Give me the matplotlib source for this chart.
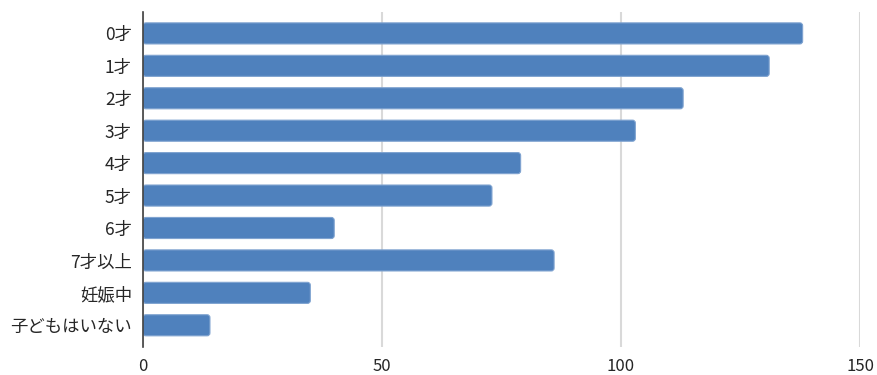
import matplotlib
matplotlib.use('Agg')
import matplotlib.pyplot as plt
from matplotlib.patches import FancyBboxPatch

plt.rcParams['font.family'] = ['Noto Sans CJK JP', 'DejaVu Sans']

categories = ['0才', '1才', '2才', '3才', '4才', '5才', '6才', '7才以上', '妊娠中', '子どもはいない']
values = [138, 131, 113, 103, 79, 73, 40, 86, 35, 14]
xticks = [0, 50, 100, 150]

fig = plt.figure(figsize=(8.78, 3.75), dpi=100)
ax = fig.add_axes([0.1629, 0.0755, 0.8166, 0.8925])

ypos = list(range(len(categories)))[::-1]
bars = ax.barh(ypos, values, height=0.65, color='#4F81BD')

# 角丸バーに置き換え
px_x = 717 / 150.0
px_y = 32.4
aspect = px_x / px_y
for b in bars:
    x0, y0 = b.get_x(), b.get_y()
    w, h = b.get_width(), b.get_height()
    b.set_visible(False)
    p = FancyBboxPatch((x0, y0), w, h, boxstyle='round,pad=0,rounding_size=0.6',
                       mutation_aspect=aspect, facecolor='#4F81BD',
                       edgecolor='#7FA3D0', linewidth=0.8, zorder=3)
    ax.add_patch(p)

ax.set_xlim(0, 150)
ax.set_ylim(-0.66, len(categories) - 1 + 0.66)
ax.set_xticks(xticks)
ax.set_yticks(ypos)
ax.set_yticklabels(categories)
ax.xaxis.grid(True, color='#D9D9D9', linewidth=1.5)
ax.set_axisbelow(True)
for s in ['top', 'right', 'bottom']:
    ax.spines[s].set_visible(False)
ax.spines['left'].set_color('#404040')
ax.spines['left'].set_linewidth(1.2)
ax.spines['left'].set_zorder(4)
ax.tick_params(axis='both', length=0, colors='#262626')
ax.tick_params(axis='x', pad=8, labelsize=12)
ax.tick_params(axis='y', pad=8, labelsize=12.5)

fig.savefig('out.png', dpi=100, facecolor='white')
